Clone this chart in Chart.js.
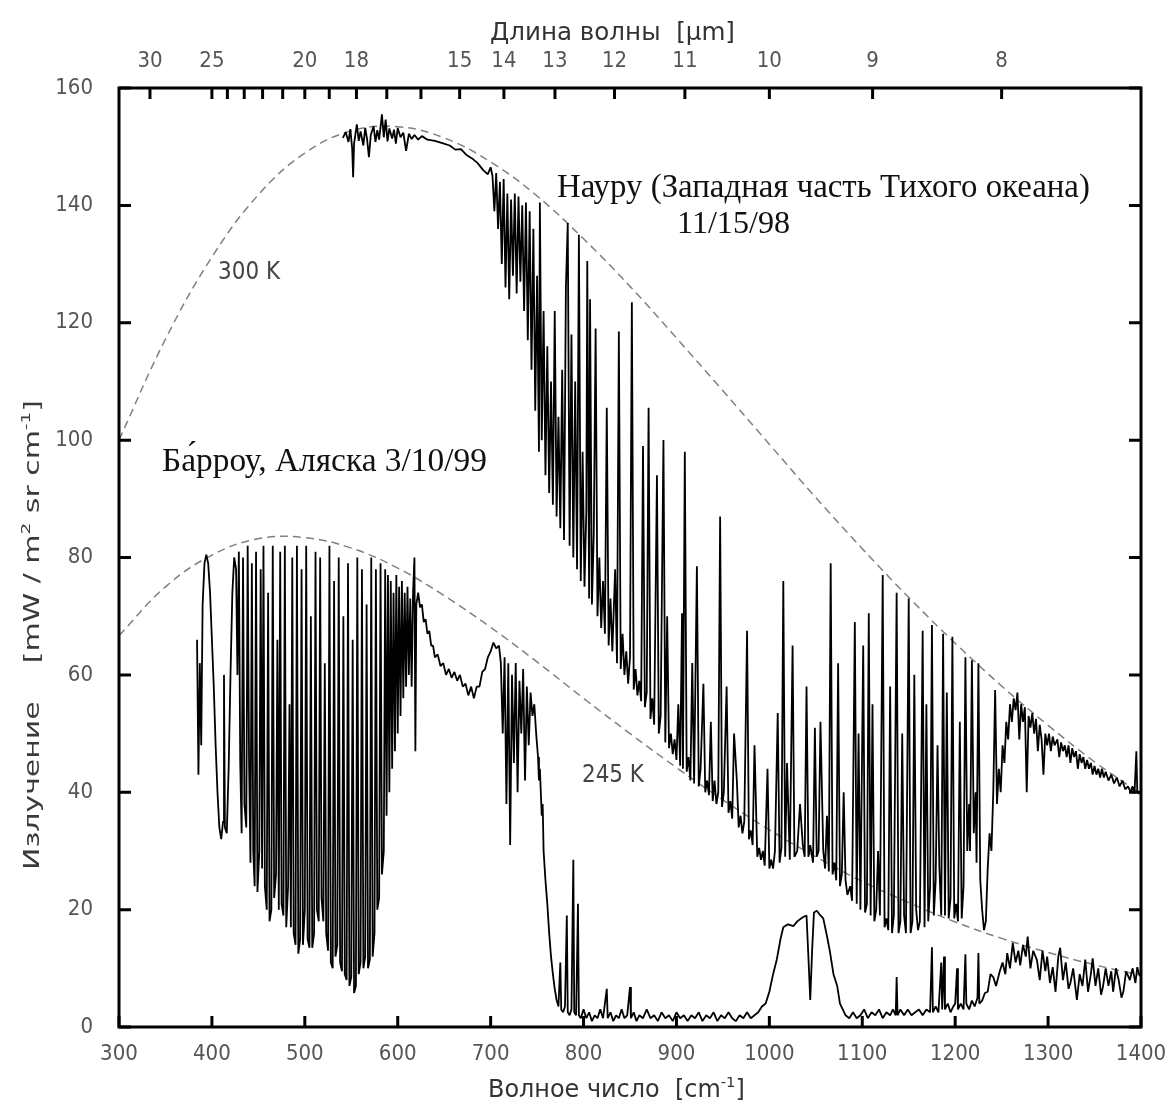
<!DOCTYPE html>
<html lang="ru">
<head>
<meta charset="utf-8">
<title>Излучение</title>
<script src="https://cdn.jsdelivr.net/npm/chart.js@4.4.1/dist/chart.umd.min.js"></script>
<style>
  html,body{margin:0;padding:0;background:#fff;}
  #box{width:1173px;height:1109px;}
</style>
</head>
<body>
<div id="box"><canvas id="chart" width="1173" height="1109"></canvas></div>
<script>
// ---------- axes ----------
const xTicks = [300,400,500,600,700,800,900,1000,1100,1200,1300,1400];
const yTicks = [0,20,40,60,80,100,120,140,160];
const umTicks = [30,25,24,23,22,21,20,19,18,17,16,15,14,13,12,11,10,9,8];
const umLabels = [30,25,20,18,15,14,13,12,11,10,9,8];

// ---------- blackbody curves ----------
const planckNu = [300,350,400,450,500,550,600,650,700,750,800,850,900,950,1000,1050,1100,1150,1200,1250,1300,1350,1400];
const rad300 = [100.0,117.2,131.2,141.8,148.9,152.7,153.4,151.5,147.4,141.6,134.3,126.2,117.4,108.4,99.3,90.2,81.5,73.2,65.4,58.1,51.4,45.2,39.7];
const rad245 = [66.7,75.0,80.4,83.2,83.4,81.6,78.2,73.5,68.1,62.2,56.0,50.0,44.2,38.7,33.6,29.0,24.8,21.2,17.9,15.1,12.7,10.6,8.8];

// ---------- Nauru spectrum ----------
const nauruNu = [
  541,544,547,549,551,552,553,556,558,560,
  563,565,567,569,571,574,576,578,580,583,
  585,587,589,591,594,596,598,600,603,606,
  609,612,615,618,622,626,632,640,648,656,
  662,668,674,680,686,692,697,
  700,702,704,706,708,710,712,714,716,718,
  720,722,724,726,728,730,732,734,736,738,
  740,742,744,746,748,750,752,753,755,757,
  759,761,763,765,767,769,771,773,775,777,
  779,781,783,785,787,789,791,793,795,797,
  799,801,803,804,806,807,809,811,813,815,
  817,819,821,823,825,827,829,831,834,836,
  838,840,842,844,846,848,850,852,854,
  856,858,860,862,864,866,868,870,872,874,
  876,879,881,883,886,888,890,892,894,896,
  898,900,902,904,906,907,909,911,913,915,
  917,919,922,924,926,929,931,933,935,937,
  939,941,943,945,947,949,951,954,956,958,
  960,962,965,967,969,971,973,976,978,980,
  982,984,987,989,991,993,995,998,1000,1002,
  1004,1006,1009,1011,1013,1015,1017,1019,1022,1025,
  1027,1030,1033,1036,1038,1040,1042,1044,1047,1049,
  1051,1053,1055,1058,1060,1062,1064,1066,1068,1070,
  1072,1074,1076,1078,1080,1082,1084,1087,1089,1092,
  1094,1096,1098,1101,1103,1105,1107,1109,1111,1113,
  1115,1117,1119,1122,1124,1126,1128,1130,1132,1134,
  1137,1139,1141,1143,1145,1147,1150,1152,1154,1156,
  1158,1160,1162,1165,1167,1169,1171,1173,1175,1177,
  1179,1181,1183,1185,1187,1189,1191,1193,1195,1197,
  1199,1201,1203,1205,1207,1209,1211,1213,1215,1216,
  1218,1220,1222,1223,1225,1227,1229,1231,1233,1235,
  1237,1239,1241,1243,
  1245,1247,1249,1251,1253,1255,1257,1259,1261,1263,
  1265,1267,1269,1271,1273,1275,1277,1279,1281,1283,
  1285,1287,1289,1291,1293,1295,1297,1299,1301,1303,
  1305,1307,1310,1312,1314,1316,1318,1320,1322,1324,
  1326,1328,1330,1332,1334,1336,1338,1340,1342,1344,
  1346,1348,1350,1352,1354,1356,1358,1360,1362,1365,
  1368,1371,1374,1377,1380,1383,1386,1389,1391,1393,
  1395,1396,1398,1400
];
const nauruRad = [
  151.5,152.5,150.8,153,149.6,144.8,150.5,153.8,151,152.6,
  150.2,153.2,151.3,148.2,152,153.5,150.8,152.8,151.2,155.5,
  151.6,154.6,150.9,153.1,151.4,152.9,150.5,153.2,151.6,152.4,
  149.3,152.2,151.3,152,151.2,151.8,151.2,151,150.6,150.2,
  149.5,149.6,148.6,148,147.2,146,145.3,
  146.5,145,139,145.5,136,144,130,144.5,126,142,
  124,141,128,142,125,141.5,127,140,122,140.5,
  117,139,112,136,105,128,98,140.5,100,122,
  94,116,91,110,89,122,87,104,85,112,
  83,126,137,82,118,80,110,78,135,76,
  98,75,88,130.5,73,124,72,84,119,70,
  80,68,76,67,105.5,65,73,64,78,62,
  118.5,61,67,60,64,58.5,63,123.5,57.5,
  61,56.5,59,55.5,99,54.5,57,105.5,52.5,56,
  51.5,94,50,53,100,48.5,70,47.5,50,46.5,
  49,45.5,55,44.5,70.5,44,98,43.5,46,42,
  62,41.5,78.5,41,44,58.5,40,42,39.5,52,
  38.5,42,38,40,87,37.5,40,58,36.5,38.5,
  35.5,50,42,34,36,33,35,67.5,32,33.5,
  31,48,29,30.5,28.5,30,27.5,44,27,28.5,
  27,30,53.5,28,30.5,76,29,45,28.5,65,
  29,30,38,31,29,58,29,31,28,51,
  29,30,52,30,27,36,26.5,79,26,28,
  25,62,24,26,40,25,22.5,24,21.5,69,
  21,50,20,65,19.5,21,70.5,19,55,18,
  20,30,19,77,17,18.5,16.5,58,16,19,
  74,16,18,50,19,16,73,16,18,60,
  20,16.5,18,67.5,17,55,18,24,68.5,19,
  25,48,27,19,67,19,57,18.5,22,66.5,
  18.5,21,18,52,18.5,24,63,30,38,30,
  62.5,33,40,28,62,25,20,16.5,18,27,
  33,30,40,57.4,
  38,44,40,48,45,52,49,55,52,56,
  54,57,49,55,52,54.5,40,53,51,53.5,
  50,52.5,47,51.5,49,43,50,48,50,47,
  49.5,48,49,46,48.5,47,48,46,48,45,
  47.5,46,47,44,46.5,45,46,44,45.5,44,
  45,43,44.5,43,44,42.5,44,42.5,43.5,42,
  43,41.5,42.5,41,42,40.5,41,40,41,39.8,
  47,40,39.8,40
];

// ---------- Barrow spectrum ----------
const barrowNu = [
  384,385.5,387,388.5,390,392,394,396,398,400,
  402,404,406,408,410,412,413,414,416,418,
  420,422,424,426,427.5,429,430.5,432,433.5,435,
  437,438.5,440,441.5,443,444.5,446,447.5,449,451,
  452.5,454,455.5,457,459,460.5,462,464,465.5,467,
  469,470.5,472,473.5,475,477,478.5,480,482,483.5,
  485,486.5,488,490,491.5,493,495,496.5,498,500,
  501.5,503,505,506.5,508,510,511.5,513,515,516.5,
  518,520,521.5,523,525,526.5,528,530,531.5,533,
  535,536.5,538,540,541.5,543,545,546.5,548,550,
  551.5,553,555,556.5,558,560,561.5,563,565,566.5,
  568,570,571.5,573,575,576.5,578,580,581.5,583,
  585,586.5,588,589.5,591,592.5,594,595.5,597,598.5,
  600,601.5,603,604.5,606,607.5,609,610.5,612,613.5,
  615,616.5,618,619,
  620,622,624,626,628,630,632,634,636,638,
  640,643,646,649,652,655,658,661,664,667,
  670,673,676,679,682,685,688,691,694,697,
  700,703,706,709,711,713,715,717,719,721,
  723,725,727,729,731,733,735,737,739,741,
  743,745,747,749,751,752,753,755,756,757,
  759,761,763,765,767,769,771,773,775,776,
  778,780,782,783,785,787,789,790,792,794,
  795,797,800,803,806,809,812,815,818,821,
  825,826,829,832,835,838,841,844,847,850,
  851,854,857,860,864,868,872,876,880,884,
  888,892,896,900,904,908,912,916,920,924,
  928,932,936,940,944,948,952,956,960,964,
  968,972,976,980,984,988,992,996,1000,1004,
  1008,1012,1015,1020,1026,1030,1036,1040,1042,1044,
  1046,1048,1051,1055,1058,1062,1065,1069,1073,1076,
  1079,1082,
  1086,1090,1094,1098,1102,1106,1110,1114,1118,1122,
  1126,1130,1133,1136,1137,1138,1141,1145,1149,1153,
  1157,1161,1165,1169,1173,1175,1176,1179,1182,1185,
  1186,1188,1189,1192,1195,1198,1200,1202,1203,1206,
  1209,1211,1212,1215,1218,1221,1224,1225,1226,1229,
  1232,1235,1238,1241,1244,1248,1251,1254,1256,1259,
  1262,1265,1268,1270,1273,1276,1278,1281,1284,1288,
  1291,1294,1297,1299,1302,1305,1308,1311,1313,1316,
  1319,1322,1324,1327,1331,1334,1337,1340,1343,1346,
  1348,1351,1354,1357,1359,1362,1365,1368,1370,1373,
  1376,1379,1381,1384,1388,1391,1394,1396,1398,1400
];
const barrowRad = [
  66,43,62,48,72,79,80.5,79,74,66,
  58,48,40,34,32,35,60,34,33,44,
  60,74,80,78,60,81,45,33,80,38,
  34,82,45,28,79,30,24,81,23,30,
  78,27,82,24,20,74,18,20,82,22,
  26,66,20,81,21,19,82,17,24,55,
  17,80,16,14,82,12.5,15,78,14,20,
  82,15,13.5,70,13.5,16,81,20,18,80,
  22,18,62,16,13,82,11,10,76,12,
  14,80,11,9.5,70,9,8,79,7,8.5,
  66,5.8,7,80,9,11,78,10,12,72,
  10,11.5,80,12,16,78,20,22,79,26,
  30,78,36,77,40,76,44,74,47,77,
  50,75,53,76,56,74,58,75,60,73,
  58,74,80,47,
  72,74,71.5,72,69,69.5,67,67.5,65,65,
  63,63.5,61.5,62,60,61,59.5,60.5,59,60,
  58,58.5,56.5,58,56,58,58,60.5,61,63,
  64,65.5,64.5,65,62,50,63,38,62,31,
  60,45,62,40,59,50,61,42,58,48,
  57,53,55,50,46,42,44,36,38,30,
  25,21,16,12,9,6.5,4.6,3.5,11,3,
  2.5,3.5,19,2.5,2,3,28.5,2.5,2,21,
  2,1.5,3,1.5,2.5,1,2,1.5,3,1.5,
  6.5,1.5,2.5,1,2,1.5,3,1.5,2,6.8,
  1.5,2.5,1,2,1.5,3,1.5,2,1,2.5,
  1.5,2,1,2.5,1.5,2,1,2,1.5,2.5,
  1,2,1.5,2.5,1,2,1.5,2.5,1.5,1,
  2,1.5,2.5,1.5,2,2.5,3.5,4,6,9,
  11.5,15,17,17.5,17.2,18,18.7,19,12,4.6,
  13,19.5,19.8,19,18.5,15.5,13,9,7,4,
  3,2,
  1.5,2.5,1.5,2,3,1.5,2.5,2,3,1.5,
  2.5,2,3,2,8.5,2,3,2,3,2,
  2.5,3,2,3,2.5,13.6,2.5,3.5,2.5,11,
  3,12,3,4,2.5,3.5,4,10,3,4,
  3,12.4,4,3,4.5,3.5,5,12.6,4,4.5,
  5.8,6,9,8.5,7,9.5,11,9,12.6,10,
  14.3,11,13,10.5,14,12,15.4,10,13,11.4,
  8,13,9.5,12,7.5,10.2,6,12,13.5,8,
  11,6.5,7.5,10,4.6,9,7,11.5,6,9,
  11.7,7,10,5.5,6.8,10,7,9.5,6,10,
  8,5,6,9.5,8,10,7.5,10.2,9,8.5
];

// ---------- helpers ----------
const $ = (id)=>document.getElementById(id);
const pts = (xs, ys)=>xs.map((v,i)=>({x:v, y:ys[i]}));

const SANS = "'DejaVu Sans', sans-serif";
const COND = "'DejaVu Sans Condensed', 'DejaVu Sans', sans-serif";
const SERIF = "'Liberation Serif', 'DejaVu Serif', serif";

// parts: [[text, isSuperscript], ...]; returns drawn width
function drawRich(ctx, parts, x, y, size, family, measureOnly){
  let cx = x;
  parts.forEach(([t, sup])=>{
    const s = sup ? size*0.62 : size;
    ctx.font = `${s}px ${family}`;
    if(!measureOnly) ctx.fillText(t, cx, sup ? y - size*0.42 : y);
    cx += ctx.measureText(t).width;
  });
  return cx - x;
}
// size that makes the parts as wide as `width`
function fitSize(ctx, parts, family, width){
  return 40*width/drawRich(ctx, parts, 0, 0, 40, family, true);
}

const notes = [
  {parts:[['Науру (Западная часть Тихого океана)',0]], nu:771.4, rad:141.4, w:533, family:SERIF, color:'#111'},
  {parts:[['11/15/98',0]], nu:900.6, rad:135.3, w:113, family:SERIF, color:'#111'},
  {parts:[['Ба\u0301рроу, Аляска 3/10/99',0]], nu:346.3, rad:94.7, w:325, family:SERIF, color:'#111'},
  {parts:[['300 K',0]], nu:406.6, rad:127.5, w:62, family:COND, color:'#444'},
  {parts:[['245 K',0]], nu:798.3, rad:41.8, w:62, family:COND, color:'#444'}
];

// frame, inward ticks, titles and labels
const framePlugin = {
  id:'frame',
  afterDraw(chart){
    const {ctx, chartArea:a, scales:{x, y, xTop}} = chart;
    ctx.save();
    ctx.strokeStyle = '#000';
    ctx.lineWidth = 3;
    ctx.strokeRect(a.left, a.top, a.right-a.left, a.bottom-a.top);
    ctx.beginPath();
    xTicks.forEach(v=>{ const p = x.getPixelForValue(v); ctx.moveTo(p, a.bottom); ctx.lineTo(p, a.bottom-11); });
    umTicks.forEach(u=>{ const p = xTop.getPixelForValue(10000/u); ctx.moveTo(p, a.top); ctx.lineTo(p, a.top+11); });
    yTicks.forEach(v=>{
      const p = y.getPixelForValue(v);
      ctx.moveTo(a.left, p); ctx.lineTo(a.left+12, p);
      ctx.moveTo(a.right, p); ctx.lineTo(a.right-12, p);
    });
    ctx.stroke();

    // axis titles
    ctx.fillStyle = '#333';
    ctx.textBaseline = 'alphabetic';
    ctx.textAlign = 'left';
    const bottomT = [['Волное число  [cm',0],['-1',1],[']',0]];
    drawRich(ctx, bottomT, 488, 1097, fitSize(ctx, bottomT, SANS, 257), SANS);
    const topT = [['Длина волны  [μm]',0]];
    drawRich(ctx, topT, 490, 40, fitSize(ctx, topT, SANS, 245), SANS);

    // y title: condensed face stretched along its length, as in the original
    const yT = [['Излучение    [mW / m',0],['2',1],[' sr cm',0],['-1',1],[']',0]];
    const natural = drawRich(ctx, yT, 0, 0, 21, COND, true);
    ctx.save();
    ctx.fillStyle = '#3a3a3a';
    ctx.translate(39, 870);
    ctx.rotate(-Math.PI/2);
    ctx.scale(470/natural, 1);
    drawRich(ctx, yT, 0, 0, 21, COND);
    ctx.restore();

    // in-plot labels
    notes.forEach(n=>{
      ctx.fillStyle = n.color;
      const s = fitSize(ctx, n.parts, n.family, n.w);
      drawRich(ctx, n.parts, x.getPixelForValue(n.nu), y.getPixelForValue(n.rad), s, n.family);
    });
    ctx.restore();
  }
};

const tickFont = {family: COND, size: 22};
// fixed axis band sizes; label overhang must not shrink the plot
const fitX = h => s=>{ s.height = h; s.paddingLeft = 0; s.paddingRight = 0; };

new Chart($('chart'), {
  type:'line',
  data:{datasets:[
    {label:'Науру', data:pts(nauruNu, nauruRad), borderColor:'#000', borderWidth:1.8, pointRadius:0, tension:0, borderJoinStyle:'bevel', order:0},
    {label:'Барроу', data:pts(barrowNu, barrowRad), borderColor:'#000', borderWidth:1.8, pointRadius:0, tension:0, borderJoinStyle:'bevel', order:0},
    {label:'300 K', data:pts(planckNu, rad300), borderColor:'#808080', borderWidth:1.5, borderDash:[8,5], pointRadius:0, tension:0.4, order:1},
    {label:'245 K', data:pts(planckNu, rad245), borderColor:'#808080', borderWidth:1.5, borderDash:[8,5], pointRadius:0, tension:0.4, order:1}
  ]},
  options:{
    responsive:false,
    animation:false,
    events:[],
    layout:{padding:{left:0, right:32, top:0, bottom:0}},
    plugins:{legend:{display:false}, tooltip:{enabled:false}},
    scales:{
      x:{
        type:'linear', position:'bottom', min:300, max:1400,
        afterBuildTicks: s=>{ s.ticks = xTicks.map(v=>({value:v})); },
        afterFit: fitX(82),
        grid:{display:false, drawTicks:false}, border:{display:false},
        ticks:{padding:14, color:'#555', font:tickFont, maxRotation:0, autoSkip:false, callback: v=>String(v)}
      },
      xTop:{
        type:'linear', position:'top', min:300, max:1400,
        afterBuildTicks: s=>{ s.ticks = umTicks.map(u=>({value:10000/u})); },
        afterFit: fitX(88),
        grid:{display:false, drawTicks:false}, border:{display:false},
        ticks:{padding:14, color:'#555', font:tickFont, maxRotation:0, autoSkip:false,
          callback: v=>{ const u = Math.round(10000/v); return umLabels.includes(u) ? String(u) : ''; }}
      },
      y:{
        type:'linear', position:'left', min:0, max:160,
        afterBuildTicks: s=>{ s.ticks = yTicks.map(v=>({value:v})); },
        afterFit: s=>{ s.width = 119; },
        grid:{display:false, drawTicks:false}, border:{display:false},
        ticks:{padding:26, color:'#555', font:tickFont, callback: v=>String(v)}
      }
    }
  },
  plugins:[framePlugin]
});
</script>
</body>
</html>
